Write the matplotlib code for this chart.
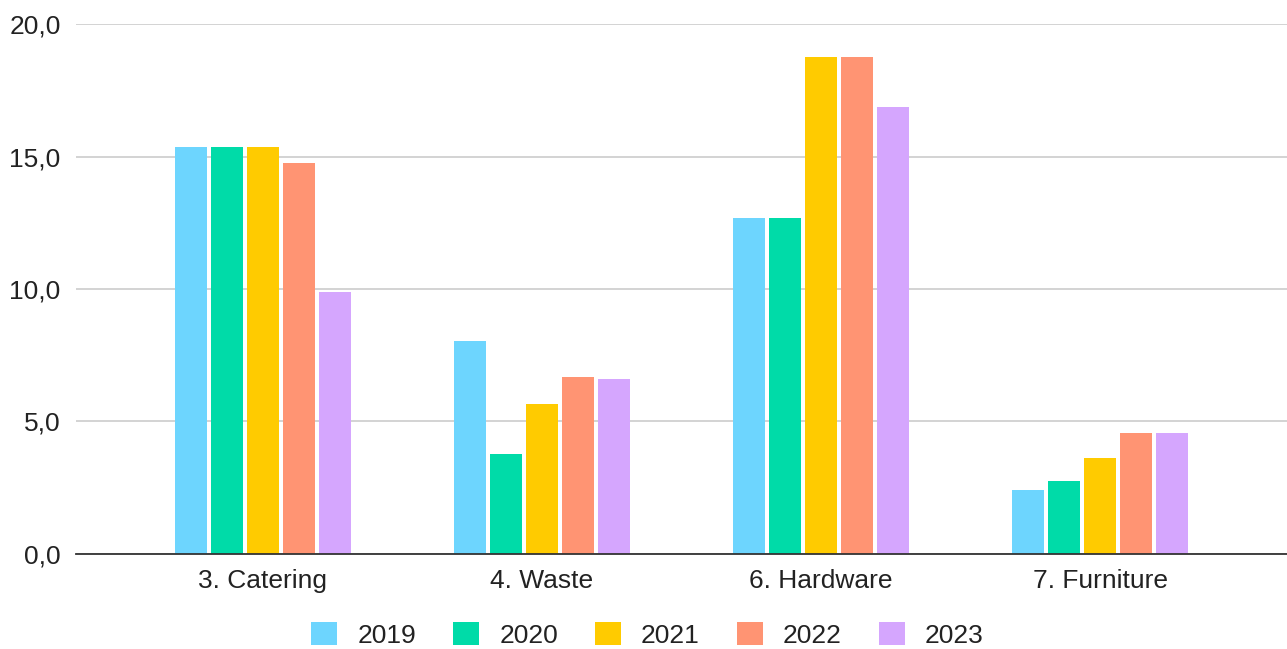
import numpy as np
import matplotlib.pyplot as plt
from matplotlib.patches import Patch

plt.rcParams['font.family'] = ['Liberation Sans', 'DejaVu Sans']

categories = ['3. Catering', '4. Waste', '6. Hardware', '7. Furniture']
years = ['2019', '2020', '2021', '2022', '2023']
v2019 = [15.35, 8.05, 12.68, 2.42]
v2020 = [15.35, 3.77, 12.68, 2.74]
v2021 = [15.35, 5.65, 18.75, 3.61]
v2022 = [14.77, 6.67, 18.75, 4.55]
v2023 = [9.87, 6.60, 16.87, 4.55]
colors = ['#6DD5FE', '#00DBA8', '#FFCB00', '#FF9473', '#D5A6FE']

series = [v2019, v2020, v2021, v2022, v2023]

fig = plt.figure(figsize=(12.87, 6.49), dpi=100)
ax = fig.add_axes([0.059, 0.1464, 0.941, 0.8166])

x = np.arange(len(categories))
pitch = 0.129
width = 0.115
for i, (vals, col) in enumerate(zip(series, colors)):
    ax.bar(x + (i - 2) * pitch, vals, width=width, color=col, linewidth=0, zorder=3)

ax.set_xlim(-0.67, 3.67)
ax.set_ylim(0, 20)
ax.set_yticks([0, 5, 10, 15, 20])
ax.set_yticklabels(['0,0', '5,0', '10,0', '15,0', '20,0'])
ax.set_xticks(x)
ax.set_xticklabels(categories)
ax.tick_params(axis='both', length=0, labelsize=19, colors='#222222')
ax.tick_params(axis='y', pad=11)
ax.tick_params(axis='x', pad=11)

ax.grid(axis='y', color='#cccccc', linewidth=1.2, zorder=0)
for s in ['top', 'right', 'left']:
    ax.spines[s].set_visible(False)
ax.spines['bottom'].set_color('#333333')
ax.spines['bottom'].set_linewidth(1.3)
ax.spines['bottom'].set_zorder(4)

handles = [Patch(facecolor=c, edgecolor='none') for c in colors]
fig.legend(handles, years, loc='center', bbox_to_anchor=(0.503, 0.022), ncol=5,
           frameon=False, fontsize=19, handlelength=1.0, handleheight=1.0,
           handletextpad=0.75, columnspacing=1.4, labelcolor='#222222')

fig.savefig('out.png', dpi=100, facecolor='white')
